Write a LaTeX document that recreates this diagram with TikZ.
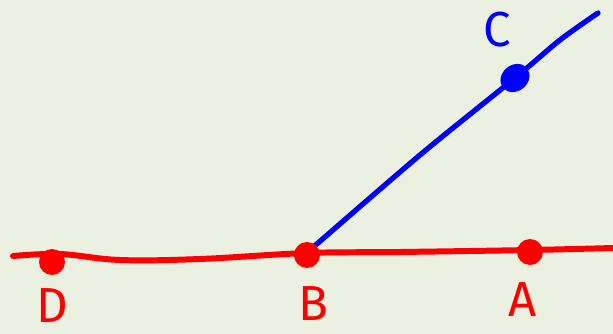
\documentclass[tikz,border=0pt]{standalone}
\usepackage{fontspec}
\setmainfont{Fira Sans}
\definecolor{paper}{HTML}{ECF0E0}
\definecolor{penred}{HTML}{FF0000}
\definecolor{penblue}{HTML}{0000FF}
\tikzset{
  dotred/.style={circle, fill=penred, inner sep=0pt, minimum size=0.52cm},
  dotblue/.style={ellipse, fill=penblue, inner sep=0pt, minimum width=0.62cm, minimum height=0.52cm, rotate=40},
  lblred/.style={text=penred, font=\fontsize{28}{30}\selectfont},
  lblblue/.style={text=penblue, font=\fontsize{28}{30}\selectfont}
}
\usetikzlibrary{shapes.geometric}
\begin{document}
\begin{tikzpicture}[x=0.02cm,y=-0.02cm]
\fill[paper] (0,0) rectangle (613,334);
\useasboundingbox (0,0) rectangle (613,334);

\coordinate (redL) at (13,256);
\coordinate (redR) at (613,248);
\coordinate (blueEnd) at (598,13);

\draw[penred, line width=3.4pt, line cap=round] plot[smooth, tension=0.6] coordinates
  {(redL) (60,254) (120,260) (200,259) (307,253) (400,252) (530,250) (redR)};
\draw[penblue, line width=3pt, line cap=round] plot[smooth, tension=0.5] coordinates
  {(310,250) (420,155) (515,78) (560,40) (blueEnd)};

\node[dotred] (D) at (52,262) {};
\node[dotred] (B) at (307,255) {};
\node[dotred] (A) at (530,252) {};
\node[dotblue] (C) at (515,78) {};

\node[lblred] (labD) at (52,306) {D};
\node[lblred] (labB) at (313,304) {B};
\node[lblred] (labA) at (523,300) {A};
\node[lblblue] (labC) at (497,30) {C};
\end{tikzpicture}
\end{document}
